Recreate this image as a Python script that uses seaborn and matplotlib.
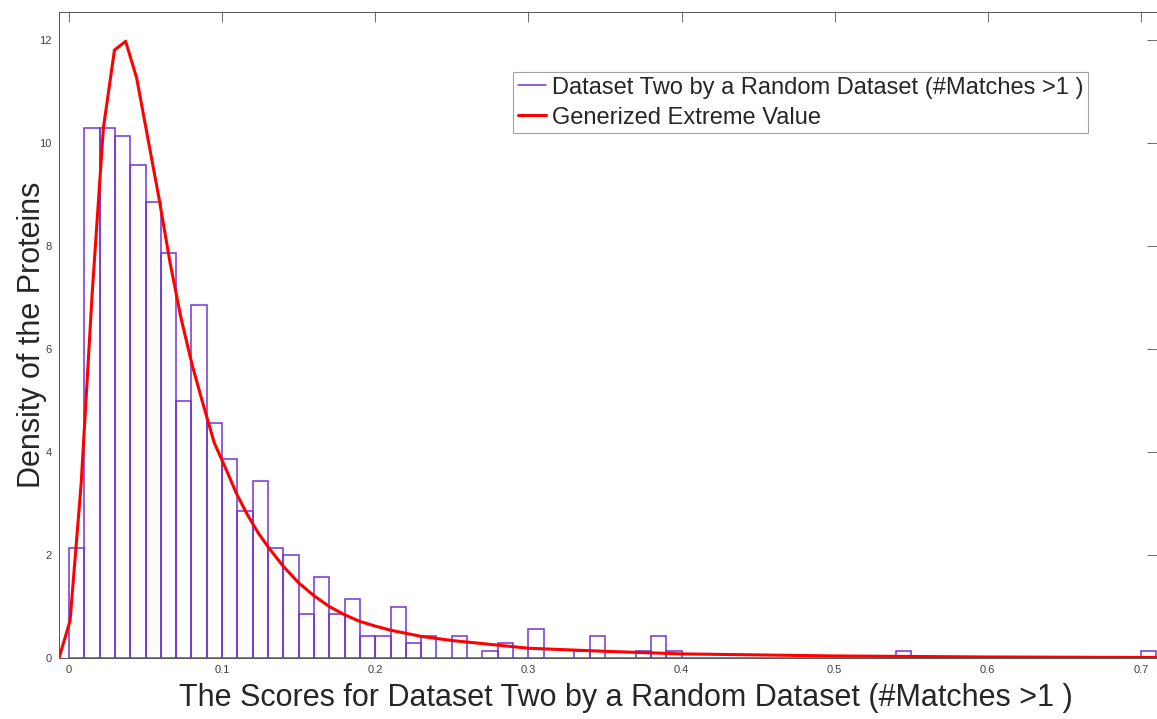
import numpy as np
import pandas as pd
import matplotlib
matplotlib.use("Agg")
import matplotlib.pyplot as plt
import seaborn as sns
from matplotlib.lines import Line2D

# histogram (density per 0.01 bin, bins from 0 to 0.71)
bin_width = 0.01
bin_start = 0.0
density = [
    2.14, 10.29, 10.29, 10.14, 9.57, 8.86, 7.86, 5.00, 6.86, 4.57,
    3.86, 2.86, 3.43, 2.14, 2.00, 0.86, 1.57, 0.86, 1.14, 0.43,
    0.43, 1.00, 0.29, 0.43, 0.00, 0.43, 0.00, 0.14, 0.29, 0.00,
    0.57, 0.00, 0.00, 0.14, 0.43, 0.00, 0.00, 0.14, 0.43, 0.14,
    0.00, 0.00, 0.00, 0.00, 0.00, 0.00, 0.00, 0.00, 0.00, 0.00,
    0.00, 0.00, 0.00, 0.00, 0.14, 0.00, 0.00, 0.00, 0.00, 0.00,
    0.00, 0.00, 0.00, 0.00, 0.00, 0.00, 0.00, 0.00, 0.00, 0.00,
    0.14,
]

# fitted GEV curve
gev_x = [-0.0065, 0.0007, 0.0080, 0.0152, 0.0225, 0.0297, 0.0370, 0.0442,
         0.0515, 0.0587, 0.0659, 0.0732, 0.0804, 0.0876, 0.0949, 0.1021,
         0.1093, 0.1166, 0.1238, 0.131, 0.14, 0.15, 0.16, 0.17, 0.18,
         0.19, 0.20, 0.21, 0.23, 0.25, 0.30, 0.35, 0.40, 0.50, 0.60, 0.711]
gev_y = [0.0, 0.72, 3.4, 7.1, 10.3, 11.81, 11.98, 11.27,
         10.1, 8.95, 7.7, 6.6, 5.7, 4.93, 4.18, 3.7,
         3.2, 2.78, 2.42, 2.12, 1.78, 1.46, 1.21, 1.0, 0.84,
         0.71, 0.62, 0.54, 0.42, 0.34, 0.19, 0.13, 0.08, 0.04, 0.02, 0.01]

x_ticks = [0, 0.1, 0.2, 0.3, 0.4, 0.5, 0.6, 0.7]
x_ticklabels = ["0", "0.1", "0.2", "0.3", "0.4", "0.5", "0.6", "0.7"]
y_ticks = [0, 2, 4, 6, 8, 10, 12]

hist_label = "Dataset Two by a Random Dataset (#Matches >1 )"
gev_label = "Generized Extreme Value"

sns.set_style("white")
plt.rcParams["font.family"] = ["Liberation Sans", "DejaVu Sans"]

purple = "#7433D2"
red = "#FF0000"
dark = "#262626"

edges = [round(bin_start + bin_width * i, 4) for i in range(len(density) + 1)]
hist_df = pd.DataFrame({"score": [e + bin_width / 2 for e in edges[:-1]], "dens": density})
gev_df = pd.DataFrame({"x": gev_x, "y": gev_y})

fig = plt.figure(figsize=(11.57, 7.19), dpi=100)
ax = fig.add_axes([58.7 / 1157, 1 - 658 / 719, 1 - 58.7 / 1157, (658 - 11.5) / 719])

sns.histplot(data=hist_df, x="score", weights="dens", bins=edges, stat="count",
             element="bars", fill=False, color=purple, linewidth=1.1, ax=ax)
sns.lineplot(data=gev_df, x="x", y="y", color=red, linewidth=2.2, sort=False, ax=ax)

ax.set_xlim(-0.0067, 0.7105)
ax.set_ylim(0, 12.56)
ax.set_xticks(x_ticks)
ax.set_xticklabels(x_ticklabels)
ax.set_yticks(y_ticks)
ax.tick_params(direction="in", length=7, width=0.6, colors="#555555",
               labelsize=8, top=True, right=True, pad=5)
ax.tick_params(axis="both", labelcolor="#404040")
for sp in ax.spines.values():
    sp.set_color("#555555")
    sp.set_linewidth(0.7)

ax.set_xlabel("The Scores for Dataset Two by a Random Dataset (#Matches >1 )",
              fontsize=22, color=dark)
ax.xaxis.set_label_coords(0.516, -0.039)
ax.set_ylabel("Density of the Proteins", fontsize=22, color=dark)
ax.yaxis.set_label_coords(-0.011, 0.5)

handles = [Line2D([0], [0], color=purple, lw=1.1),
           Line2D([0], [0], color=red, lw=2.2)]
leg = ax.legend(handles, [hist_label, gev_label], loc="upper right",
                bbox_to_anchor=(1088 / 1157, 1 - 72 / 719),
                bbox_transform=fig.transFigure, fontsize=17,
                handlelength=1.2, handletextpad=0.25, labelspacing=0.33,
                borderpad=0.2, borderaxespad=0, frameon=True, fancybox=False)
leg.get_frame().set_edgecolor("#8a8a8a")
leg.get_frame().set_linewidth(0.8)

fig.savefig("out.png", dpi=100)
